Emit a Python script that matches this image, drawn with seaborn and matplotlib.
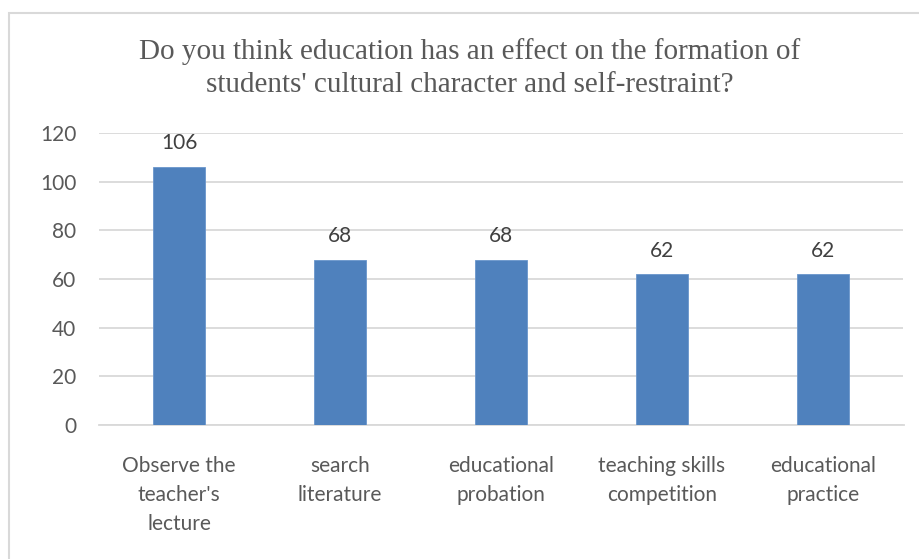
import matplotlib
matplotlib.use("Agg")
import matplotlib.pyplot as plt
from matplotlib.patches import Rectangle
import seaborn as sns
import pandas as pd

categories = [
    "Observe the\nteacher's\nlecture",
    "search\nliterature",
    "educational\nprobation",
    "teaching skills\ncompetition",
    "educational\npractice",
]
values = [106, 68, 68, 62, 62]
y_ticks = [0, 20, 40, 60, 80, 100, 120]
title = ("Do you think education has an effect on the formation of\n"
         "students' cultural character and self-restraint?")

sns.set_theme(style="white")
plt.rcParams["font.family"] = ["Lato", "DejaVu Sans"]

W, H = 920, 559
fig = plt.figure(figsize=(W / 100, H / 100), dpi=100)
fig.patch.set_facecolor("white")

# light frame around the chart area
fig.add_artist(Rectangle((8.5 / W, -0.05), 1.2, (H - 12.5) / H + 0.05,
                         transform=fig.transFigure, fill=False,
                         edgecolor="#D9D9D9", linewidth=1.5))

ax = fig.add_axes([98.5 / W, (H - 425) / H, (903.5 - 98.5) / W, (425 - 133) / H])

df = pd.DataFrame({"category": categories, "value": values})
sns.barplot(data=df, x="category", y="value", color="#4F81BD",
            width=0.32, saturation=1, edgecolor="#6A96CC", linewidth=0.6,
            ax=ax, zorder=3)

ax.set_ylim(0, 120)
ax.set_xlim(-0.5, len(categories) - 0.5)
ax.set_yticks(y_ticks)
ax.set_yticklabels([str(t) for t in y_ticks])
ax.yaxis.grid(True, color="#D9D9D9", linewidth=1.3, zorder=0)
ax.set_axisbelow(True)
for s in ["left", "right", "top"]:
    ax.spines[s].set_visible(False)
ax.spines["bottom"].set_color("#D9D9D9")
ax.spines["bottom"].set_linewidth(1.3)
ax.set_xlabel("")
ax.set_ylabel("")
ax.tick_params(axis="y", length=0, pad=16, labelsize=15, labelcolor="#595959")
ax.tick_params(axis="x", length=0, pad=22, labelsize=15, labelcolor="#595959")
for lbl in ax.get_xticklabels():
    lbl.set_linespacing(1.57)
    lbl.set_verticalalignment("top")

for i, v in enumerate(values):
    ax.annotate(str(v), (i, v), xytext=(0, 17), textcoords="offset points",
                ha="center", va="center", fontsize=15, color="#404040")

fig.text(470 / W, 1 - 68 / H, title, ha="center", va="center",
         family=["Liberation Serif", "DejaVu Serif"], fontsize=21,
         color="#595959", linespacing=1.38)

fig.savefig("out.png", dpi=100, facecolor="white")
